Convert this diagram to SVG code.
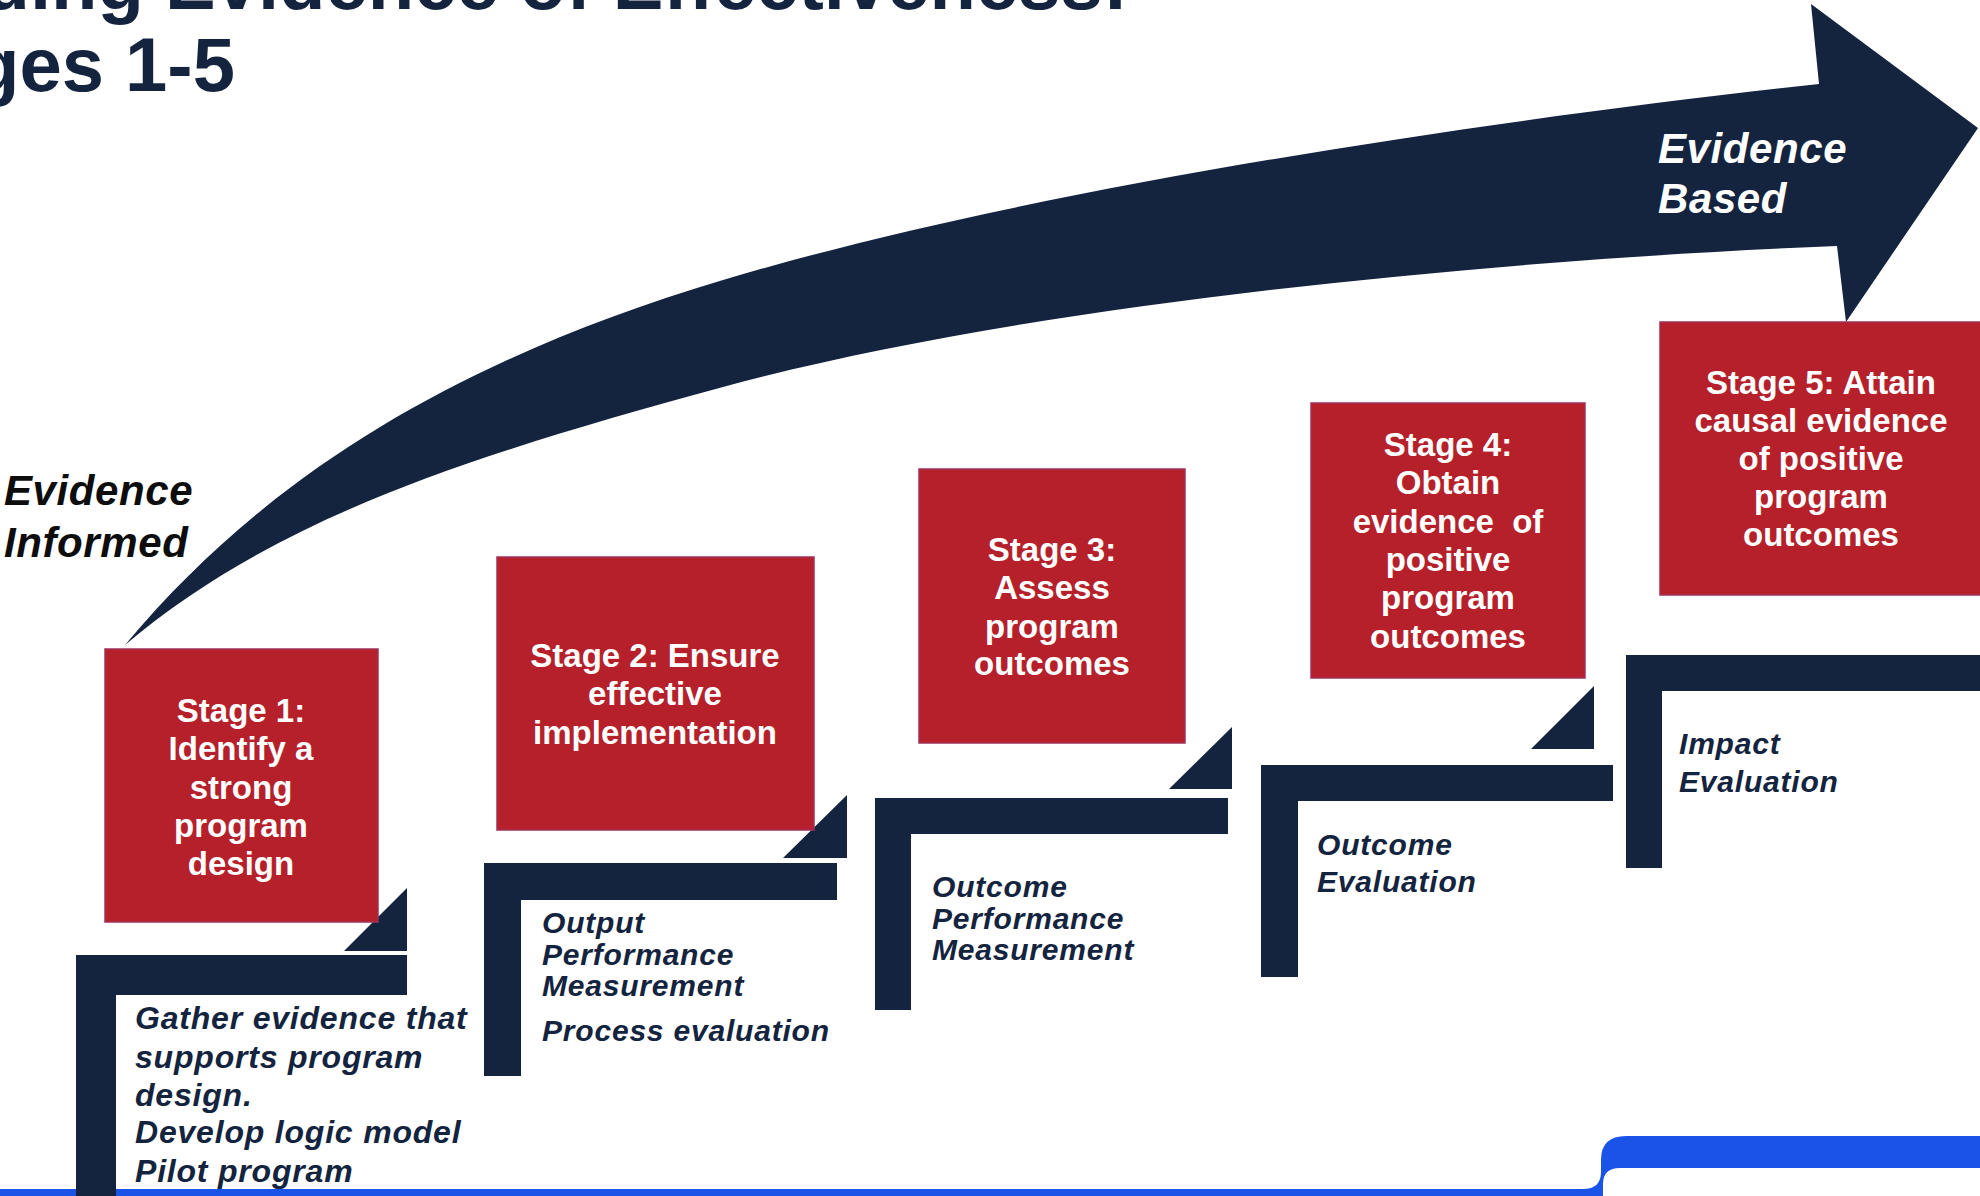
<svg xmlns="http://www.w3.org/2000/svg" width="1980" height="1196" viewBox="0 0 1980 1196">
<style>
.navy{fill:#14243F}
.red{fill:#B5202B;stroke:#A0305A;stroke-width:1.5}
.title{font-family:"Liberation Sans",Arial,sans-serif;font-weight:bold;font-size:76px;fill:#14243F}
.box{font-family:"Liberation Sans",Arial,sans-serif;font-weight:bold;font-size:33px;fill:#FFFFFF;text-anchor:middle}
.lbl{font-family:"Liberation Sans",Arial,sans-serif;font-weight:bold;font-style:italic;font-size:30px;fill:#14243F;letter-spacing:0.8px}
.lbl1{font-size:32px}
.big{font-family:"Liberation Sans",Arial,sans-serif;font-weight:bold;font-style:italic;font-size:42px;letter-spacing:0.6px}
</style>
<rect x="0" y="0" width="1980" height="1196" fill="#FFFFFF"/>

<g id="title">
<text class="title" x="1128" y="9" text-anchor="end">ding Evidence of Effectiveness:</text>
<text class="title" x="-27" y="91">ges 1-5</text>
</g>

<g id="footer-band">
<path fill="#1A53E8" d="M0 1189 L1583 1189 Q1601 1189 1601 1172 L1601 1160 Q1601 1136 1626 1136 L1980 1136 L1980 1168 L1620 1168 Q1603 1168 1603 1184 L1603 1196 L0 1196 Z"/>
</g>

<g id="connectors">
<path id="progress-arrow" class="navy" d="M125 645 C275 465 473 355 723 280 C1023 190 1469 122.5 1819 84 L1811 4 L1978 128 L1846 322 L1837 246 C1487 260 1023 305 723 387 C473 455 275 517.5 125 645 Z"/>
</g>

<g id="label-informed">
<text class="big" x="4" y="505" fill="#0D0D0D">Evidence</text>
<text class="big" x="4" y="557" fill="#0D0D0D">Informed</text>
</g>
<g id="label-based">
<text class="big" x="1658" y="163" fill="#FFFFFF">Evidence</text>
<text class="big" x="1658" y="213" fill="#FFFFFF">Based</text>
</g>

<g id="step1">
<path class="navy" d="M76 955 H407 V995 H116 V1196 H76 Z"/>
<path class="navy" d="M344 951 L407 888 L407 951 Z"/>
<text class="lbl lbl1" x="135" y="1029">Gather evidence that</text>
<text class="lbl lbl1" x="135" y="1068">supports program</text>
<text class="lbl lbl1" x="135" y="1106">design.</text>
<text class="lbl lbl1" x="135" y="1143">Develop logic model</text>
<text class="lbl lbl1" x="135" y="1182">Pilot program</text>
</g>
<g id="stage1">
<rect class="red" x="105" y="649" width="273" height="273"/>
<text class="box" x="241" y="722">Stage 1:</text>
<text class="box" x="241" y="760">Identify a</text>
<text class="box" x="241" y="799">strong</text>
<text class="box" x="241" y="837">program</text>
<text class="box" x="241" y="875">design</text>
</g>

<g id="step2">
<path class="navy" d="M484 863 H837 V900 H521 V1076 H484 Z"/>
<path class="navy" d="M783 858 L847 795 L847 858 Z"/>
<text class="lbl" x="542" y="933">Output</text>
<text class="lbl" x="542" y="965">Performance</text>
<text class="lbl" x="542" y="996">Measurement</text>
<text class="lbl" x="542" y="1041">Process evaluation</text>
</g>
<g id="stage2">
<rect class="red" x="497" y="557" width="317" height="273"/>
<text class="box" x="655" y="667">Stage 2: Ensure</text>
<text class="box" x="655" y="705">effective</text>
<text class="box" x="655" y="744">implementation</text>
</g>

<g id="step3">
<path class="navy" d="M875 798 H1228 V834 H911 V1010 H875 Z"/>
<path class="navy" d="M1169 789 L1232 727 L1232 789 Z"/>
<text class="lbl" x="932" y="897">Outcome</text>
<text class="lbl" x="932" y="929">Performance</text>
<text class="lbl" x="932" y="960">Measurement</text>
</g>
<g id="stage3">
<rect class="red" x="919" y="469" width="266" height="274"/>
<text class="box" x="1052" y="561">Stage 3:</text>
<text class="box" x="1052" y="599">Assess</text>
<text class="box" x="1052" y="638">program</text>
<text class="box" x="1052" y="675">outcomes</text>
</g>

<g id="step4">
<path class="navy" d="M1261 765 H1613 V801 H1298 V977 H1261 Z"/>
<path class="navy" d="M1531 749 L1594 686 L1594 749 Z"/>
<text class="lbl" x="1317" y="855">Outcome</text>
<text class="lbl" x="1317" y="892">Evaluation</text>
</g>
<g id="stage4">
<rect class="red" x="1311" y="403" width="274" height="275"/>
<text class="box" x="1448" y="456">Stage 4:</text>
<text class="box" x="1448" y="494">Obtain</text>
<text class="box" x="1448" y="533">evidence&#160; of</text>
<text class="box" x="1448" y="571">positive</text>
<text class="box" x="1448" y="609">program</text>
<text class="box" x="1448" y="648">outcomes</text>
</g>

<g id="step5">
<path class="navy" d="M1626 655 H1980 V691 H1662 V868 H1626 Z"/>
<text class="lbl" x="1679" y="754">Impact</text>
<text class="lbl" x="1679" y="792">Evaluation</text>
</g>
<g id="stage5">
<rect class="red" x="1660" y="322" width="330" height="273"/>
<text class="box" x="1821" y="394">Stage 5: Attain</text>
<text class="box" x="1821" y="432">causal evidence</text>
<text class="box" x="1821" y="470">of positive</text>
<text class="box" x="1821" y="508">program</text>
<text class="box" x="1821" y="546">outcomes</text>
</g>
</svg>
